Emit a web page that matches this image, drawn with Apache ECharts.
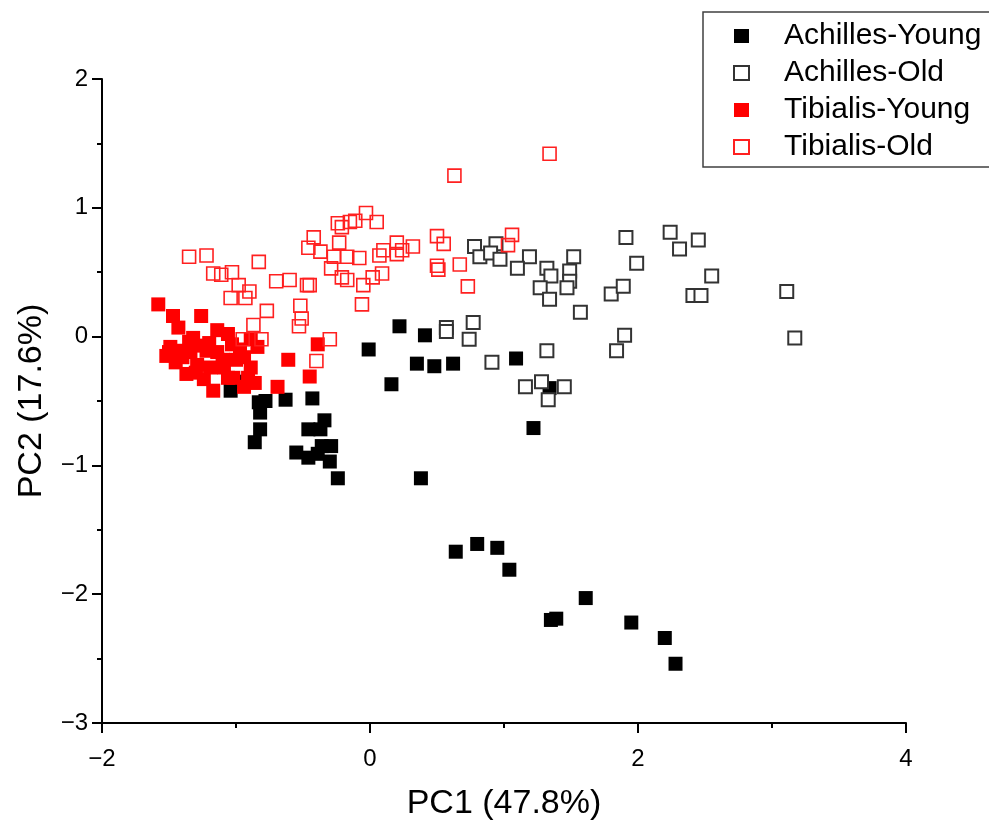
<!DOCTYPE html>
<html>
<head>
<meta charset="utf-8">
<script src="https://cdn.jsdelivr.net/npm/echarts@6/dist/echarts.min.js"></script>
<style>
  html, body { margin: 0; padding: 0; background: #fff; }
  #chart { width: 989px; height: 821px; }
</style>
</head>
<body>
<div id="chart"></div>
<script>
// PCA scores, [PC1, PC2]
const achillesYoung = [
  [-1.04, -0.42], [-0.96, -0.35], [-0.83, -0.51], [-0.78, -0.50], [-0.82, -0.59],
  [-0.63, -0.49], [-0.43, -0.48], [-0.82, -0.72], [-0.86, -0.82], [-0.34, -0.65],
  [-0.46, -0.72], [-0.37, -0.72], [-0.36, -0.85], [-0.29, -0.85], [-0.55, -0.90],
  [-0.46, -0.94], [-0.39, -0.91], [-0.30, -0.97], [-0.24, -1.10], [-0.01, -0.10],
  [0.22, 0.08], [0.41, 0.01], [0.35, -0.21], [0.48, -0.23], [0.62, -0.21],
  [0.16, -0.37], [1.09, -0.17], [1.34, -0.40], [1.22, -0.71], [0.38, -1.10],
  [0.64, -1.67], [0.80, -1.61], [0.95, -1.64], [1.04, -1.81], [1.35, -2.20],
  [1.39, -2.19], [1.61, -2.03], [1.95, -2.22], [2.20, -2.34], [2.28, -2.54]
];
const achillesOld = [
  [0.78, 0.70], [0.82, 0.62], [0.94, 0.72], [0.90, 0.65], [0.97, 0.60],
  [1.19, 0.62], [1.10, 0.53], [1.52, 0.62], [1.32, 0.53], [1.35, 0.47],
  [1.49, 0.51], [1.49, 0.43], [1.27, 0.38], [1.47, 0.38], [1.34, 0.29],
  [1.57, 0.19], [1.91, 0.77], [1.99, 0.57], [1.80, 0.33], [1.89, 0.39],
  [2.24, 0.81], [2.31, 0.68], [2.45, 0.75], [2.55, 0.47], [2.41, 0.32],
  [2.47, 0.32], [1.90, 0.01], [1.84, -0.11], [0.57, 0.07], [0.57, 0.04],
  [0.77, 0.11], [0.74, -0.02], [0.91, -0.20], [1.32, -0.11], [1.16, -0.39],
  [1.28, -0.35], [1.45, -0.39], [1.33, -0.49], [3.11, 0.35], [3.17, -0.01]
];
const tibialisYoung = [
  [-1.58, 0.25], [-1.47, 0.16], [-1.43, 0.07], [-1.26, 0.16], [-1.14, 0.05],
  [-1.06, 0.02], [-1.03, -0.06], [-1.49, -0.08], [-1.52, -0.15], [-1.35, -0.04],
  [-1.32, -0.01], [-1.27, -0.07], [-1.40, -0.16], [-1.34, -0.12], [-1.22, -0.11],
  [-1.14, -0.12], [-1.37, -0.29], [-1.29, -0.22], [-1.19, -0.24], [-1.09, -0.24],
  [-1.24, -0.33], [-1.17, -0.42], [-1.06, -0.32], [-1.02, -0.32], [-0.97, -0.10],
  [-0.94, -0.16], [-0.89, -0.24], [-0.91, -0.32], [-0.86, -0.36], [-0.94, -0.39],
  [-0.84, -0.08], [-0.89, -0.02], [-1.42, -0.11], [-1.50, -0.12], [-1.45, -0.20],
  [-1.30, -0.28], [-1.20, -0.05], [-1.10, -0.18], [-1.00, -0.18],
  [-0.61, -0.18], [-0.45, -0.31], [-0.39, -0.06], [-0.69, -0.39]
];
const tibialisOld = [
  [0.63, 1.25], [1.34, 1.42], [-0.03, 0.96], [-0.11, 0.90], [-0.15, 0.89],
  [-0.21, 0.85], [-0.24, 0.88], [0.05, 0.89], [-0.42, 0.77], [-0.23, 0.73],
  [-0.46, 0.69], [-0.37, 0.66], [-0.27, 0.62], [-0.17, 0.62], [-0.08, 0.61],
  [-0.29, 0.53], [-0.21, 0.46], [-0.17, 0.44], [0.02, 0.46], [0.09, 0.49],
  [-0.05, 0.40], [-0.06, 0.25], [0.07, 0.63], [0.10, 0.67], [0.20, 0.73],
  [0.24, 0.67], [0.20, 0.64], [0.32, 0.70], [0.50, 0.78], [0.55, 0.72],
  [0.50, 0.55], [0.51, 0.52], [0.67, 0.56], [0.73, 0.39], [1.06, 0.79],
  [1.03, 0.71], [-0.70, 0.43], [-0.60, 0.44], [-0.47, 0.40], [-0.45, 0.40],
  [-0.52, 0.24], [-0.51, 0.14], [-0.53, 0.08], [-0.30, -0.02], [-1.35, 0.62],
  [-1.22, 0.63], [-0.83, 0.58], [-1.17, 0.49], [-1.11, 0.48], [-1.03, 0.50],
  [-0.98, 0.40], [-0.90, 0.35], [-1.04, 0.30], [-0.93, 0.30], [-0.77, 0.20],
  [-0.87, 0.09], [-0.95, -0.02], [-0.81, -0.02], [-0.40, -0.19]
];

const FONT = '"Liberation Sans", Arial, sans-serif';
const minusFmt = (v) => String(v).replace('-', '\u2212');

const chart = echarts.init(document.getElementById('chart'), null, { renderer: 'canvas' });

const axisCommon = {
  type: 'value',
  nameLocation: 'middle',
  nameTextStyle: { color: '#000', fontSize: 34, fontFamily: FONT },
  axisLine: { show: true, onZero: false, lineStyle: { color: '#000', width: 2 } },
  axisTick: { show: true, inside: false, length: 10, lineStyle: { color: '#000', width: 2 } },
  minorTick: { show: true, splitNumber: 2, length: 5, lineStyle: { color: '#000', width: 2 } },
  axisLabel: { color: '#000', fontSize: 24, fontFamily: FONT, formatter: minusFmt },
  splitLine: { show: false },
  minorSplitLine: { show: false }
};

const option = {
  backgroundColor: '#fff',
  animation: false,
  grid: { left: 102, top: 79, right: 83, bottom: 98, containLabel: false, outerBoundsMode: 'none' },
  legend: {
    orient: 'vertical',
    left: 703,
    top: 12,
    padding: [9, 40, 5, 30],
    itemGap: 7,
    itemWidth: 15,
    itemHeight: 14,
    icon: 'rect',
    borderColor: '#404040',
    borderWidth: 1.5,
    textStyle: { color: '#000', fontSize: 30, fontFamily: FONT, lineHeight: 30, padding: [0, 0, 0, 30] },
    data: ['Achilles-Young', 'Achilles-Old', 'Tibialis-Young', 'Tibialis-Old']
  },
  xAxis: Object.assign({}, axisCommon, {
    name: 'PC1 (47.8%)',
    nameGap: 64,
    min: -2, max: 4, interval: 2,
    axisLabel: Object.assign({}, axisCommon.axisLabel, { margin: 24 })
  }),
  yAxis: Object.assign({}, axisCommon, {
    name: 'PC2 (17.6%)',
    nameGap: 53,
    min: -3, max: 2, interval: 1,
    axisLabel: Object.assign({}, axisCommon.axisLabel, { margin: 14 })
  }),
  series: [
    {
      name: 'Achilles-Young', type: 'scatter', data: achillesYoung,
      symbol: 'rect', symbolSize: 14,
      itemStyle: { color: '#000', opacity: 1 }
    },
    {
      name: 'Achilles-Old', type: 'scatter', data: achillesOld,
      symbol: 'rect', symbolSize: 13,
      itemStyle: { color: '#fff', borderColor: '#333', borderWidth: 2, opacity: 1 }
    },
    {
      name: 'Tibialis-Young', type: 'scatter', data: tibialisYoung,
      symbol: 'rect', symbolSize: 14,
      itemStyle: { color: '#ff0000', opacity: 1 }
    },
    {
      name: 'Tibialis-Old', type: 'scatter', data: tibialisOld,
      symbol: 'rect', symbolSize: 13,
      itemStyle: { color: 'rgba(255,255,255,0)', borderColor: '#ff2020', borderWidth: 1.6, opacity: 1 }
    }
  ]
};

chart.setOption(option);
</script>
</body>
</html>
